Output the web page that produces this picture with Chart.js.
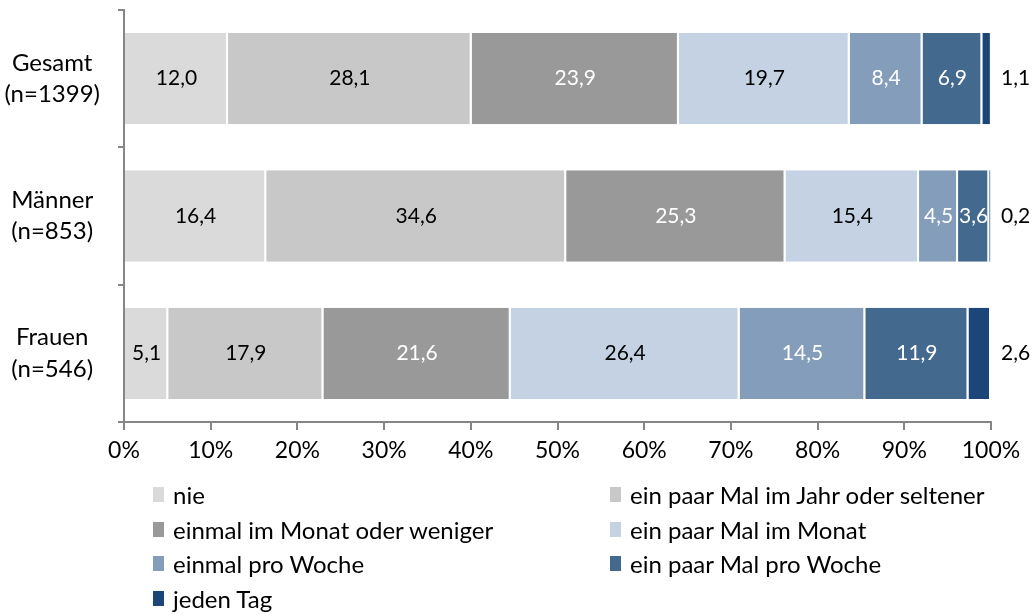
<!DOCTYPE html>
<html>
<head>
<meta charset="utf-8">
<script src="https://cdn.jsdelivr.net/npm/chart.js@4"></script>
<style>
  body { margin: 0; background: #fff; }
  #wrap { position: relative; width: 1035px; height: 615px; }
  #myChart { position: absolute; left: 0; top: 0; }
  #legend { position: absolute; left: 153px; top: 477px; width: 880px;
            display: grid; grid-template-columns: 457px 420px; row-gap: 0;
            font-family: Lato, sans-serif; font-size: 24px; color: #000; }
  .item { display: flex; align-items: center; height: 34.7px; }
  .box { width: 11px; height: 15px; margin-right: 9px; }
</style>
</head>
<body>
<div id="wrap">
  <canvas id="myChart" width="1035" height="480"></canvas>
  <div id="legend"></div>
</div>
<script>
// ----------- DATA ------------
const categories = [["Gesamt", "(n=1399)"], ["Männer", "(n=853)"], ["Frauen", "(n=546)"]];
const series_names = ["nie", "ein paar Mal im Jahr oder seltener", "einmal im Monat oder weniger",
  "ein paar Mal im Monat", "einmal pro Woche", "ein paar Mal pro Woche", "jeden Tag"];
const nie = [12.0, 16.4, 5.1];
const jahr = [28.1, 34.6, 17.9];
const monat_weniger = [23.9, 25.3, 21.6];
const paar_monat = [19.7, 15.4, 26.4];
const pro_woche = [8.4, 4.5, 14.5];
const paar_woche = [6.9, 3.6, 11.9];
const jeden_tag = [1.1, 0.2, 2.6];
const x_ticks = [0, 10, 20, 30, 40, 50, 60, 70, 80, 90, 100];

const colors = ['#dadada', '#c8c8c8', '#999999', '#c5d2e3', '#849dbb', '#44698f', '#1c4677'];
const label_colors = ['#000', '#000', '#fff', '#000', '#fff', '#fff', '#000'];
const all_values = [nie, jahr, monat_weniger, paar_monat, pro_woche, paar_woche, jeden_tag];

const FONT = 'Lato, sans-serif';

// ----------- PLUGIN: value labels ------------
const valueLabels = {
  id: 'valueLabels',
  afterDatasetsDraw(chart) {
    const ctx = chart.ctx;
    ctx.save();
    ctx.font = '21px ' + FONT;
    ctx.textBaseline = 'middle';
    chart.data.datasets.forEach((ds, i) => {
      chart.getDatasetMeta(i).data.forEach((bar, j) => {
        const txt = ds.data[j].toFixed(1).replace('.', ',');
        if (i === chart.data.datasets.length - 1) {
          ctx.textAlign = 'left';
          ctx.fillStyle = '#000';
          ctx.fillText(txt, chart.chartArea.right + 10, bar.y);
        } else {
          ctx.textAlign = 'center';
          ctx.fillStyle = label_colors[i];
          ctx.fillText(txt, (bar.x + bar.base) / 2, bar.y);
        }
      });
    });
    ctx.restore();
  }
};

// ----------- LEGEND ------------
function build_legend(chart) {
  const el = document.getElementById('legend');
  el.innerHTML = '';
  chart.data.datasets.forEach(ds => {
    const item = document.createElement('div');
    item.className = 'item';
    item.innerHTML = '<span class="box" style="background:' + ds.backgroundColor + '"></span>' + ds.label;
    el.appendChild(item);
  });
}

// ----------- CHART ------------
const my_chart = new Chart(document.getElementById('myChart'), {
  type: 'bar',
  data: {
    labels: categories,
    datasets: series_names.map((name, i) => ({
      label: name,
      data: all_values[i],
      backgroundColor: colors[i],
      borderColor: '#ffffff',
      borderWidth: { top: 0, bottom: 0, left: 0, right: 2 },
      borderSkipped: false,
      barPercentage: 0.665,
      categoryPercentage: 1
    }))
  },
  options: {
    indexAxis: 'y',
    responsive: false,
    animation: false,
    layout: { padding: { top: 10, right: 44, left: 0, bottom: 0 } },
    plugins: { legend: { display: false }, tooltip: { enabled: false } },
    scales: {
      x: {
        stacked: true,
        min: 0, max: 100,
        afterBuildTicks: scale => { scale.ticks = x_ticks.map(v => ({ value: v })); },
        afterFit: scale => { scale.height = 58; },
        ticks: { callback: v => v + '%', color: '#000', font: { family: FONT, size: 23 }, padding: 7, maxRotation: 0 },
        grid: { drawOnChartArea: false, drawTicks: true, tickLength: 8, color: '#868686', lineWidth: 2 },
        border: { color: '#868686', width: 2 }
      },
      y: {
        stacked: true,
        afterFit: scale => { scale.width = 124; scale.paddingTop = 0; scale.paddingBottom = 0; },
        ticks: { color: '#000', font: { family: FONT, size: 24, lineHeight: 1.3 }, crossAlign: 'center', padding: 18 },
        grid: { drawOnChartArea: false, drawTicks: true, tickLength: 6, offset: true, color: '#868686', lineWidth: 2 },
        border: { color: '#868686', width: 2 }
      }
    }
  },
  plugins: [valueLabels]
});

build_legend(my_chart);
</script>
</body>
</html>
